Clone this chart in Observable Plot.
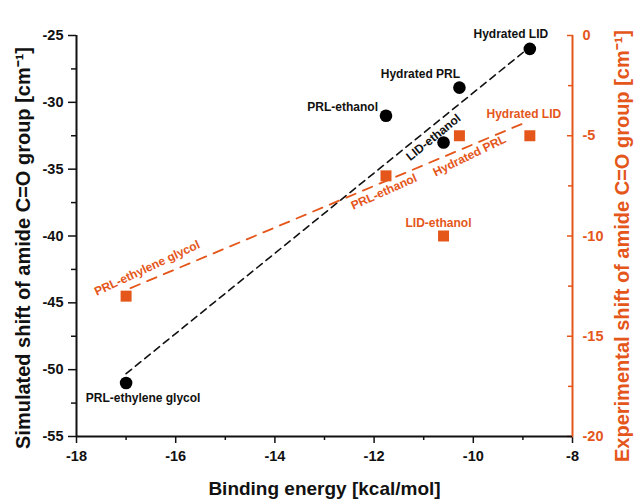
<!DOCTYPE html>
<html>
<head>
<meta charset="utf-8">
<script src="https://cdn.jsdelivr.net/npm/d3@7"></script>
<script src="https://cdn.jsdelivr.net/npm/@observablehq/plot@0.6"></script>
<style>
  html, body { margin: 0; padding: 0; background: #fff; }
  #chart svg { display: block; }
  #chart svg text { font-weight: bold; }
  #chart g[aria-label="axis-title"] text { letter-spacing: 0.9px; }
  #chart g[aria-label="x-title"] text { letter-spacing: 0.6px; }
</style>
</head>
<body>
<div id="chart"></div>
<script>
// ---- data ----
const systems = ["PRL-ethylene glycol", "PRL-ethanol", "LID-ethanol", "Hydrated PRL", "Hydrated LID"];
const energy = [-17, -11.76, -10.6, -10.28, -8.86];          // kcal/mol
const simulated = [-51, -31, -33, -28.9, -26];                 // cm-1 (left axis)
const experimental = [-13, -7, -10, -5, -5];                   // cm-1 (right axis)
// dashed trend lines (endpoints)
const simFitX = [-17, -8.89];
const simFitY = [-50.3, -25.95];
const expFitX = [-16.91, -9.01];
const expFitY = [-12.6, -4.4];
// ticks
const xTicks = [-18, -16, -14, -12, -10, -8];
const xMinor = [-17, -15, -13, -11, -9];
const leftTicks = [-55, -50, -45, -40, -35, -30, -25];
const leftMinor = [-52.5, -47.5, -42.5, -37.5, -32.5, -27.5];
const rightTicks = [-20, -15, -10, -5, 0];
const rightMinor = [-17.5, -12.5, -7.5, -2.5];

// right axis (experimental) is mapped onto left scale
const toLeft = v => v * 1.5 - 25;
const toRight = v => (v + 25) / 1.5;

const ORANGE = "#e4561a";
const FONT = "Liberation Sans, Arial, sans-serif";

const pts = systems.map((s, i) => ({name: s, x: energy[i], sim: simulated[i], exp: toLeft(experimental[i])}));
const simFit = simFitX.map((x, i) => ({x, y: simFitY[i]}));
const expFit = expFitX.map((x, i) => ({x, y: toLeft(expFitY[i])}));
const byName = n => pts.filter(d => d.name === n);

const lblStyle = {fontSize: 12, fontWeight: "bold", fontFamily: FONT};
function blackLabel(name, opts) {
  return Plot.text(byName(name), {x: "x", y: "sim", text: "name", fill: "#111", ...lblStyle, ...opts});
}
function orangeLabel(name, opts) {
  return Plot.text(byName(name), {x: "x", y: "exp", text: "name", fill: ORANGE, ...lblStyle, ...opts});
}

const chart = Plot.plot({
  width: 636,
  height: 500,
  marginLeft: 76,
  marginRight: 64,
  marginTop: 35,
  marginBottom: 64,
  style: {fontFamily: FONT, background: "#fff"},
  x: {domain: [-18, -8]},
  y: {domain: [-55, -25]},
  marks: [
    // bottom axis
    Plot.axisX(xTicks, {tickSize: 7, tickPadding: 7, tickFormat: d => String(d), fontSize: 14.5, fill: "#111", stroke: "#111", strokeWidth: 1.5, label: null}),
    Plot.axisX(xMinor, {tickSize: 4, tickFormat: () => "", stroke: "#111", strokeWidth: 1.5, label: null}),
    // left axis
    Plot.axisY(leftTicks, {tickSize: 8, tickPadding: 5, tickFormat: d => String(d), fontSize: 14.5, fill: "#111", stroke: "#111", strokeWidth: 1.5, label: null}),
    Plot.axisY(leftMinor, {tickSize: 5, tickFormat: () => "", stroke: "#111", strokeWidth: 1.5, label: null}),
    // right axis (inward ticks)
    Plot.axisY(rightTicks.map(toLeft), {anchor: "right", tickSize: 6, dx: -6, tickFormat: () => "", stroke: ORANGE, strokeWidth: 1.5, label: null}),
    Plot.axisY(rightMinor.map(toLeft), {anchor: "right", tickSize: 5, dx: -5, tickFormat: () => "", stroke: ORANGE, strokeWidth: 1.5, label: null}),
    Plot.axisY(rightTicks.map(toLeft), {anchor: "right", tickSize: 0, tickPadding: 10, tickFormat: d => String(Math.round(toRight(d))), fontSize: 14.5, fill: ORANGE, label: null}),
    // axis lines
    Plot.ruleY([-55], {stroke: "#111", strokeWidth: 2}),
    Plot.ruleX([-18], {stroke: "#111", strokeWidth: 2}),
    Plot.ruleX([-8], {stroke: ORANGE, strokeWidth: 2}),
    // axis titles
    Plot.text(["Binding energy [kcal/mol]"], {ariaLabel: "x-title", frameAnchor: "bottom", lineAnchor: "middle", textAnchor: "middle", dy: 52, fontSize: 19, fill: "#111", fontFamily: FONT}),
    Plot.text(["Simulated shift of amide C=O group [cm⁻¹]"], {ariaLabel: "axis-title", frameAnchor: "left", textAnchor: "middle", lineAnchor: "middle", dx: -53, dy: 12, rotate: -90, fontSize: 20, fill: "#111", fontFamily: FONT}),
    Plot.text(["Experimental shift of amide C=O group [cm⁻¹]"], {ariaLabel: "axis-title", frameAnchor: "right", textAnchor: "middle", lineAnchor: "middle", dx: 50, dy: 10, rotate: -90, fontSize: 20, fill: ORANGE, fontFamily: FONT}),
    // trend lines
    Plot.line(simFit, {x: "x", y: "y", stroke: "#111", strokeWidth: 1.6, strokeDasharray: "7,5"}),
    Plot.line(expFit, {x: "x", y: "y", stroke: ORANGE, strokeWidth: 1.8, strokeDasharray: "10,8"}),
    // points
    Plot.dot(pts, {x: "x", y: "sim", r: 6.3, fill: "#000", stroke: "none"}),
    Plot.dot(pts, {x: "x", y: "exp", r: 6.2, symbol: "square", fill: ORANGE, stroke: "none"}),
    // black labels
    blackLabel("Hydrated LID", {dx: -19, dy: -15}),
    blackLabel("Hydrated PRL", {dx: -39, dy: -13}),
    blackLabel("PRL-ethanol", {dx: -8, dy: -9, textAnchor: "end"}),
    blackLabel("LID-ethanol", {dx: -10, dy: -5, rotate: -39}),
    blackLabel("PRL-ethylene glycol", {dx: 17, dy: 15}),
    // orange labels
    orangeLabel("Hydrated LID", {dx: -6, dy: -22}),
    orangeLabel("LID-ethanol", {dx: -5, dy: -13}),
    orangeLabel("Hydrated PRL", {dx: 10, dy: 20, rotate: -26}),
    orangeLabel("PRL-ethanol", {dx: -2, dy: 16, rotate: -24}),
    orangeLabel("PRL-ethylene glycol", {dx: 21, dy: -28, rotate: -25})
  ]
});
document.getElementById("chart").appendChild(chart);
</script>
</body>
</html>
